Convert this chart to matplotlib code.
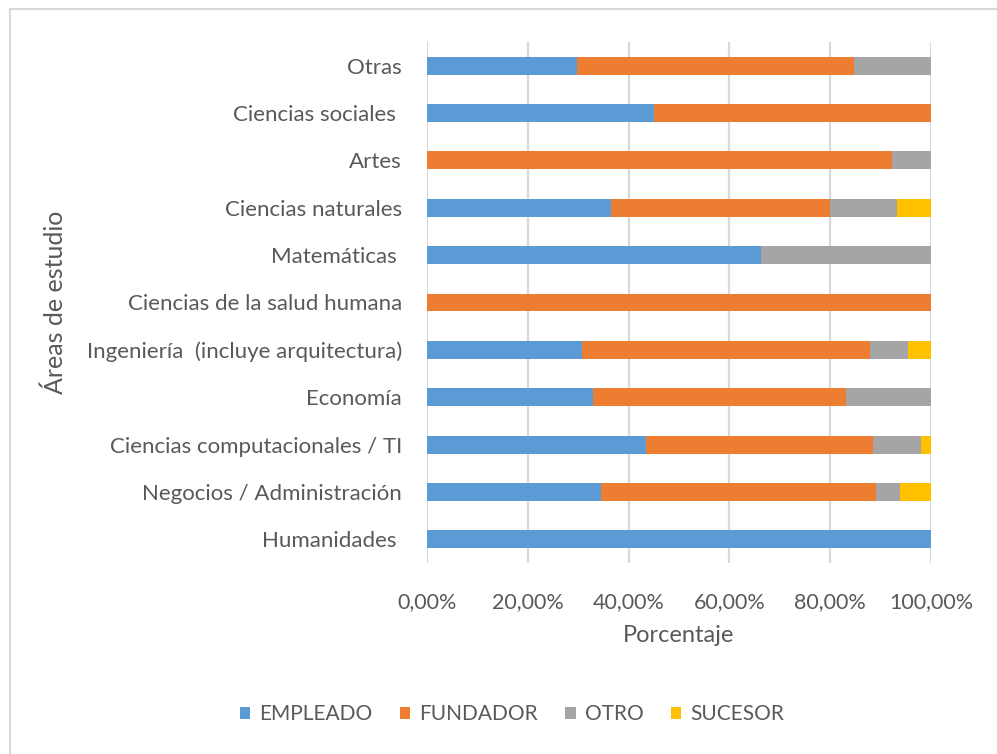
import matplotlib
matplotlib.use('Agg')
import matplotlib.pyplot as plt
from matplotlib.lines import Line2D
import numpy as np

plt.rcParams['font.family'] = ['Lato', 'DejaVu Sans']

# categories, bottom to top
areas = ['Humanidades ', 'Negocios / Administración', 'Ciencias computacionales / TI',
         'Economía', 'Ingeniería  (incluye arquitectura)', 'Ciencias de la salud humana',
         'Matemáticas ', 'Ciencias naturales', 'Artes', 'Ciencias sociales ', 'Otras']

# shares in percent
empleado = [100.0, 34.5, 43.5, 32.9, 30.8, 0.0, 66.3, 36.6, 0.0, 45.1, 29.7]
fundador = [0.0, 54.5, 45.0, 50.3, 57.1, 100.0, 0.0, 43.3, 92.2, 54.9, 55.1]
otro = [0.0, 4.8, 9.5, 16.8, 7.5, 0.0, 33.7, 13.4, 7.8, 0.0, 15.2]
sucesor = [0.0, 6.2, 2.0, 0.0, 4.6, 0.0, 0.0, 6.7, 0.0, 0.0, 0.0]

series = ['EMPLEADO', 'FUNDADOR', 'OTRO', 'SUCESOR']
colores = ['#5B9BD5', '#ED7D31', '#A5A5A5', '#FFC000']
xticks = [0, 20, 40, 60, 80, 100]
xtick_labels = ['0,00%', '20,00%', '40,00%', '60,00%', '80,00%', '100,00%']

text_color = '#595959'

fig = plt.figure(figsize=(9.97, 7.54), dpi=100)
ax = fig.add_axes([427 / 997, 1 - 563 / 754, 504 / 997, 521 / 754])

y = np.arange(len(areas))
left = np.zeros(len(areas))
for nombre, vals, c in zip(series, [empleado, fundador, otro, sucesor], colores):
    ax.barh(y, vals, left=left, height=0.38, color=c, label=nombre, zorder=3)
    left = left + np.array(vals)

ax.set_xlim(0, 100)
ax.set_ylim(-0.5, len(areas) - 0.5)
ax.set_yticks(y)
ax.set_yticklabels(areas, fontsize=16, color=text_color)
ax.set_xticks(xticks)
ax.set_xticklabels(xtick_labels, fontsize=15.5, color=text_color)
ax.tick_params(axis='y', length=0, pad=18)
ax.tick_params(axis='x', length=0, pad=21)
ax.grid(axis='x', color='#D9D9D9', linewidth=1.6, zorder=0)
for s in ax.spines.values():
    s.set_visible(False)

ax.set_xlabel('Porcentaje', fontsize=17, color=text_color, labelpad=9)
ax.set_ylabel('Áreas de estudio', fontsize=18, color=text_color)
ax.yaxis.set_label_coords((67 - 427) / 504, 0.5)

fig.legend(loc='center', bbox_to_anchor=(512 / 997, 1 - 714 / 754), ncol=4,
           frameon=False, fontsize=15, labelcolor=text_color,
           handlelength=0.5, handleheight=0.5, handletextpad=0.45, columnspacing=1.3)

# light border of the chart area
fig.add_artist(Line2D([10 / 997, 1], [1 - 9 / 754, 1 - 9 / 754], color='#D9D9D9', linewidth=1.5))
fig.add_artist(Line2D([10 / 997, 10 / 997], [0, 1 - 9 / 754], color='#D9D9D9', linewidth=1.5))

fig.savefig('out.png', dpi=100, facecolor='white')
